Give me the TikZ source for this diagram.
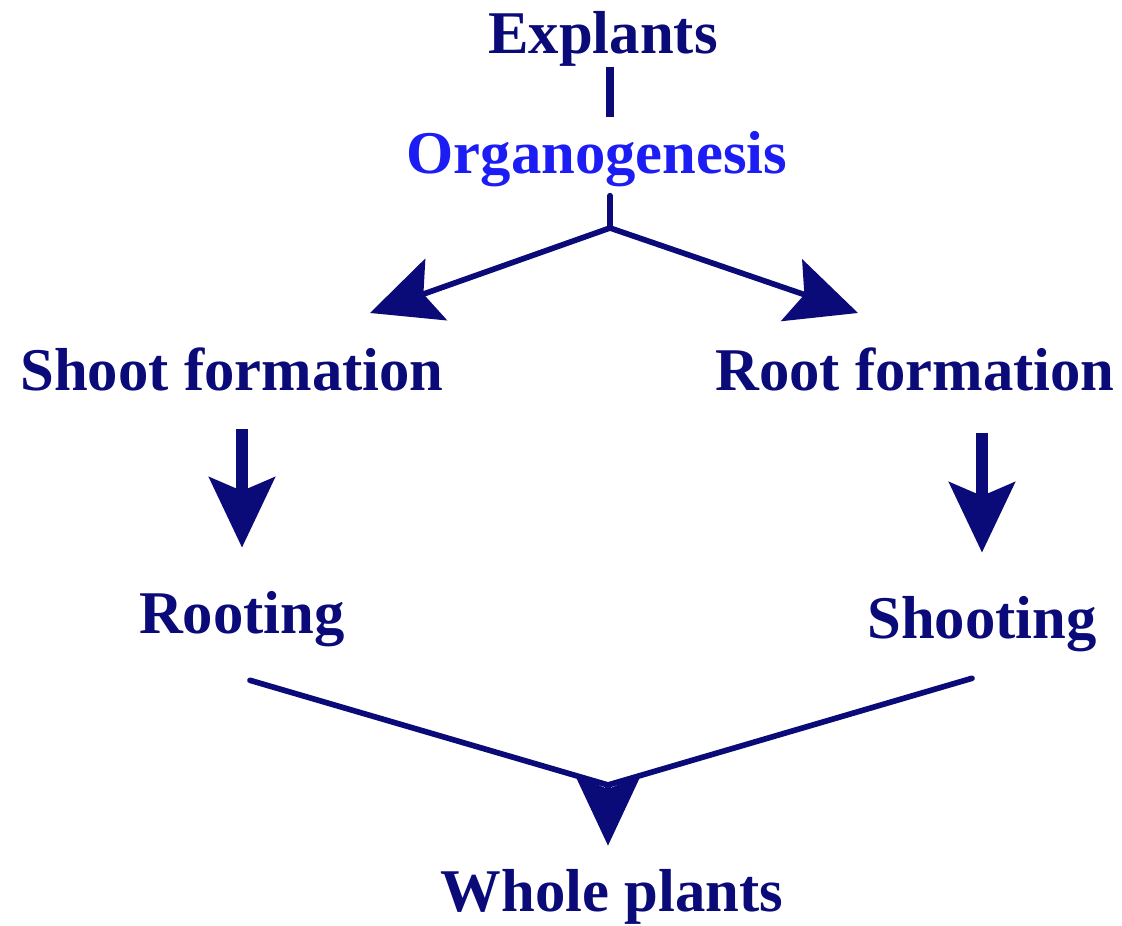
\documentclass[tikz,border=0pt]{standalone}
\usepackage{fontspec}
\setmainfont{Liberation Serif}
\usepackage{xcolor}
\definecolor{navyText}{HTML}{0A0A78}
\definecolor{brightBlue}{HTML}{1C1CF5}
\usetikzlibrary{
    arrows.meta,
    positioning,
    calc
}
\tikzset{
    % Base style for all stage labels
    stage/.style={
        font=\fontsize{18.2}{21}\selectfont\bfseries,
        text=navyText,
        inner sep=0pt,
        text height=12pt,
        text depth=4pt,
    },
    % Process label - bright blue
    process stage/.style={
        stage,
        text=brightBlue,
    },
    % Plain connecting line
    link/.style={
        draw=navyText,
        line width=1.7pt,
        line cap=round,
    },
    % Thick vertical stem
    stem/.style={
        draw=navyText,
        line width=2.4pt,
    },
    % Arrow with large notched head
    arrow/.style={
        link,
        -{Stealth[length=21pt, width=19.5pt, inset=4pt]},
    },
    % Thick downward arrow
    arrow thick/.style={
        arrow,
        line width=3.6pt,
        line cap=butt,
    },
}

\begin{document}
\begin{tikzpicture}[x=0.3pt, y=-0.3pt]
    \useasboundingbox (0,0) rectangle (1122,926);

    \node (explants) [stage] at (603,40) {Explants};
    \node (organo) [process stage] at (597,160) {Organogenesis};
    \node (shoot) [stage] at (232,377) {Shoot formation};
    \node (rootf) [stage] at (915,377) {Root formation};
    \node (rooting) [stage] at (242,620) {Rooting};
    \node (shooting) [stage] at (982,625) {Shooting};
    \node (whole) [stage] at (612,898) {Whole plants};

    \coordinate (fork) at (610,228);
    \coordinate (leftTip) at (370,313);
    \coordinate (rightTip) at (858,313);
    \coordinate (merge) at (608,785);

    \draw [stem, shorten <=0pt, shorten >=4.6pt] (explants.south -| fork) -- (organo.north -| fork);
    \draw [link, shorten <=2.5pt] (organo.south -| fork) -- (fork);
    \draw [arrow] (fork) -- (leftTip);
    \draw [arrow] (fork) -- (rightTip);

    \draw [arrow thick, shorten <=7.5pt, shorten >=13.5pt] (shoot.south -| rooting) -- (rooting.north);
    \draw [arrow thick, shorten <=8.5pt, shorten >=13.5pt] (rootf.south -| shooting) -- (shooting.north);

    \draw [link] ([shift={(8,33)}]rooting.south) -- (merge) -- ([shift={(-10,26)}]shooting.south);
    \draw [arrow] (merge) -- (merge |- whole.north) [shorten >=7.5pt];
\end{tikzpicture}
\end{document}
